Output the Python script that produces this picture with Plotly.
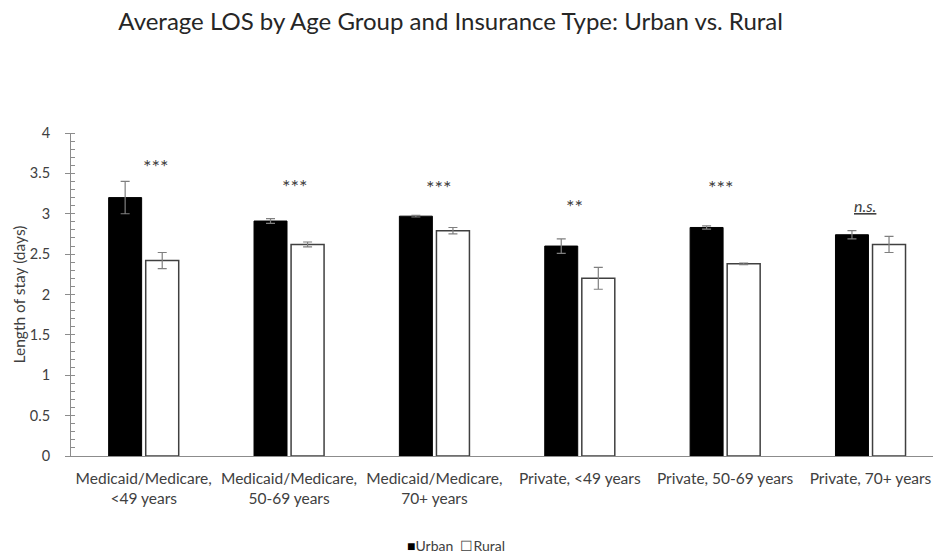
import plotly.graph_objects as go

# Length of stay by payer / age group, urban vs. rural hospitals
categories = [
    "Medicaid/Medicare,<br><49 years",
    "Medicaid/Medicare,<br>50-69 years",
    "Medicaid/Medicare,<br>70+ years",
    "Private, <49 years",
    "Private, 50-69 years",
    "Private, 70+ years",
]
urban_los = [3.20, 2.91, 2.97, 2.60, 2.83, 2.74]
urban_err = [0.20, 0.03, 0.01, 0.09, 0.02, 0.05]
rural_los = [2.42, 2.62, 2.79, 2.20, 2.38, 2.62]
rural_err = [0.10, 0.03, 0.04, 0.135, 0.01, 0.10]
significance = ["***", "***", "***", "**", "***", "<i><u>n.s.</u></i>"]
sig_label_y = [3.59, 3.34, 3.33, 3.10, 3.33, 3.10]
sig_label_shift = [12, 6, 5, -5, -4, -5]

FONT = "Lato, 'Open Sans', sans-serif"
TEXT = "#404040"
AXIS = "#8c8c8c"

fig = go.Figure()
fig.add_trace(go.Bar(
    name="Urban", x=categories, y=urban_los,
    marker=dict(color="black", line=dict(color="black", width=1)),
    error_y=dict(type="data", array=urban_err, color="#7f7f7f", thickness=1.2, width=4.5),
))
fig.add_trace(go.Bar(
    name="Rural", x=categories, y=rural_los,
    marker=dict(color="white", line=dict(color="#404040", width=1.5)),
    error_y=dict(type="data", array=rural_err, color="#7f7f7f", thickness=1.2, width=4.5),
))

for cat, lab, ly, dx in zip(categories, significance, sig_label_y, sig_label_shift):
    size = 20 if lab.startswith("*") else 16
    fig.add_annotation(x=cat, y=ly, text=lab, showarrow=False, xshift=dx,
                       font=dict(family=FONT, size=size, color=TEXT))

# compact legend line under the axis
fig.add_annotation(
    xref="paper", yref="paper", x=(456 - 71) / 862, y=-(545 - 456) / 323,
    xanchor="center", yanchor="middle", showarrow=False, borderpad=0,
    text="<span style='color:black'>■</span>Urban  ☐Rural",
    font=dict(family=FONT, size=14, color=TEXT),
)

fig.update_layout(
    width=933, height=556,
    margin=dict(l=71, r=0, t=133, b=100),
    paper_bgcolor="white", plot_bgcolor="white",
    barmode="group", bargap=0.49, bargroupgap=0.11,
    title=dict(text="Average LOS by Age Group and Insurance Type: Urban vs. Rural",
               x=0.483, xanchor="center", y=0.962, yanchor="middle",
               font=dict(family=FONT, size=24, color="#262626")),
    font=dict(family=FONT, size=15, color=TEXT),
    showlegend=False,
)
fig.update_xaxes(
    range=[-0.5, 5.43], showline=True, linecolor=AXIS, linewidth=1,
    ticks="", showgrid=False, tickfont=dict(size=15.5, color=TEXT),
    ticklabelstandoff=8,
)
fig.update_yaxes(
    range=[0, 4], dtick=0.5, showline=True, linecolor=AXIS, linewidth=1,
    ticks="outside", ticklen=5, tickcolor=AXIS, showgrid=False, zeroline=False,
    minor=dict(dtick=0.1, ticks="inside", ticklen=4, tickcolor=AXIS),
    title=dict(text="Length of stay (days)", font=dict(size=15.5, color=TEXT), standoff=0),
    tickfont=dict(size=14.5, color=TEXT), ticklabelstandoff=12,
)

fig.write_html("out.html")
